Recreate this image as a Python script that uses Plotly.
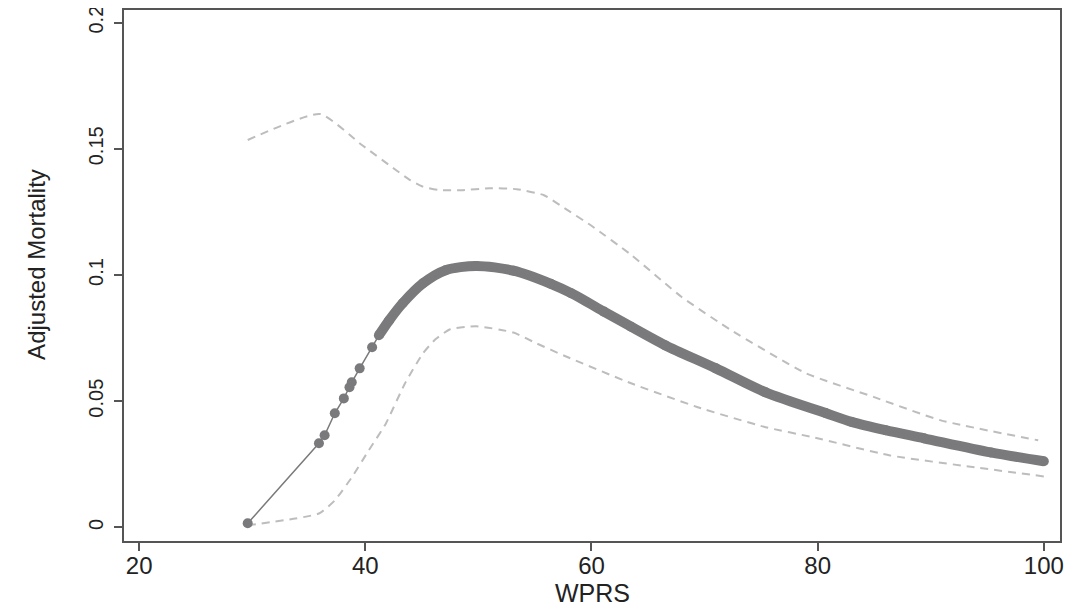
import plotly.graph_objects as go

# Fitted adjusted mortality (dots) vs WPRS
wprs_fit = [29.6, 35.9, 36.4, 37.3, 38.1, 38.6, 38.8, 39.5, 40.6, 41.2, 42.1, 43.3,
            45.1, 47.1, 49.8, 53.1, 56.4, 58.2, 61.1, 63.5, 66.5, 71.0,
            75.4, 80.7, 83.0, 86.0, 89.4, 95.3, 100.0]
mort_fit = [0.0016, 0.0333, 0.0365, 0.0452, 0.0511, 0.0555, 0.0575, 0.0630, 0.0714,
            0.0761, 0.0820, 0.0888, 0.0967, 0.1019, 0.1036, 0.1017, 0.0965, 0.0928,
            0.0855, 0.0795, 0.0722, 0.0630, 0.0535, 0.0453, 0.0418,
            0.0385, 0.0353, 0.0297, 0.0262]

# Upper confidence band
wprs_upper = [29.6, 36.0, 39.7, 42.7, 44.0, 45.1, 46.5, 48.5, 51.0, 53.4, 55.8, 57.6,
              60.0, 63.5, 68.0, 72.4, 79.0, 85.0, 90.9, 99.5]
mort_upper = [0.1535, 0.1638, 0.1515, 0.1416, 0.1375, 0.1350, 0.1337, 0.1336, 0.1344,
              0.1340, 0.1316, 0.1265, 0.1195, 0.1080, 0.0912, 0.0780, 0.0610, 0.0516,
              0.0424, 0.0345]

# Lower confidence band
wprs_lower = [29.6, 35.9, 37.3, 38.8, 40.3, 41.8, 43.5, 45.1, 46.2, 47.5, 49.8, 53.1,
              55.1, 57.6, 63.5, 69.4, 75.4, 79.6, 86.4, 93.9, 100.0]
mort_lower = [0.0008, 0.0055, 0.0107, 0.0198, 0.0305, 0.0410, 0.0570, 0.0690, 0.0745,
              0.0785, 0.0797, 0.0772, 0.0730, 0.0680, 0.0571, 0.0476, 0.0397, 0.0357,
              0.0285, 0.0238, 0.0202]

x_ticks = [20, 40, 60, 80, 100]
y_ticks = [0, 0.05, 0.1, 0.15, 0.2]
y_tick_text = ["0", "0.05", "0.1", "0.15", "0.2"]

DOT = "#7a7a7c"
BAND = "#bdbdbd"
AX = "#555555"
FONT = "Liberation Sans, Arial, sans-serif"

fig = go.Figure()
for xs, ys in [(wprs_upper, mort_upper), (wprs_lower, mort_lower)]:
    fig.add_trace(go.Scatter(x=xs, y=ys, mode="lines",
                             line=dict(color=BAND, width=2, dash="8px,6px",
                                       shape="spline", smoothing=0.5),
                             hoverinfo="skip", showlegend=False))

# dense region of dots drawn as a thick band
dense = [i for i, v in enumerate(wprs_fit) if v >= 41.0]
fig.add_trace(go.Scatter(x=[wprs_fit[i] for i in dense], y=[mort_fit[i] for i in dense],
                         mode="lines", line=dict(color=DOT, width=10, shape="spline", smoothing=0.8),
                         showlegend=False))
fig.add_trace(go.Scatter(x=wprs_fit, y=mort_fit, mode="lines+markers",
                         line=dict(color=DOT, width=1.5),
                         marker=dict(color=DOT, size=10),
                         showlegend=False))

fig.update_layout(
    width=1068, height=599,
    margin=dict(l=116, r=16, t=2, b=66),
    paper_bgcolor="white", plot_bgcolor="white",
    font=dict(family=FONT, size=24, color="#222222"),
    xaxis=dict(range=[18.66, 101.43], tickvals=x_ticks, ticks="outside", ticklen=8,
               tickwidth=2, tickcolor=AX, showline=True, linecolor=AX, linewidth=2,
               mirror=True, showgrid=False, zeroline=False, automargin=False,
               ticklabelstandoff=-6, ticklabeloverflow="allow"),
    yaxis=dict(range=[-0.0054, 0.205], tickvals=y_ticks, ticktext=y_tick_text,
               tickangle=-90, ticks="outside", ticklen=8, tickwidth=2, tickcolor=AX,
               showline=True, linecolor=AX, linewidth=2, automargin=False,
               mirror=True, showgrid=False, zeroline=False, ticklabelstandoff=3,
               ticklabeloverflow="allow", tickfont=dict(size=20)),
    annotations=[
        dict(text="WPRS", x=0.5, y=0, xref="paper", yref="paper", xanchor="center",
             yanchor="middle", yshift=-52, showarrow=False, font=dict(size=25)),
        dict(text="Adjusted Mortality", x=0, y=0.52, xref="paper", yref="paper",
             xanchor="center", yanchor="middle", xshift=-87, textangle=-90,
             showarrow=False, font=dict(size=24)),
    ],
)
fig.write_html("out.html")
